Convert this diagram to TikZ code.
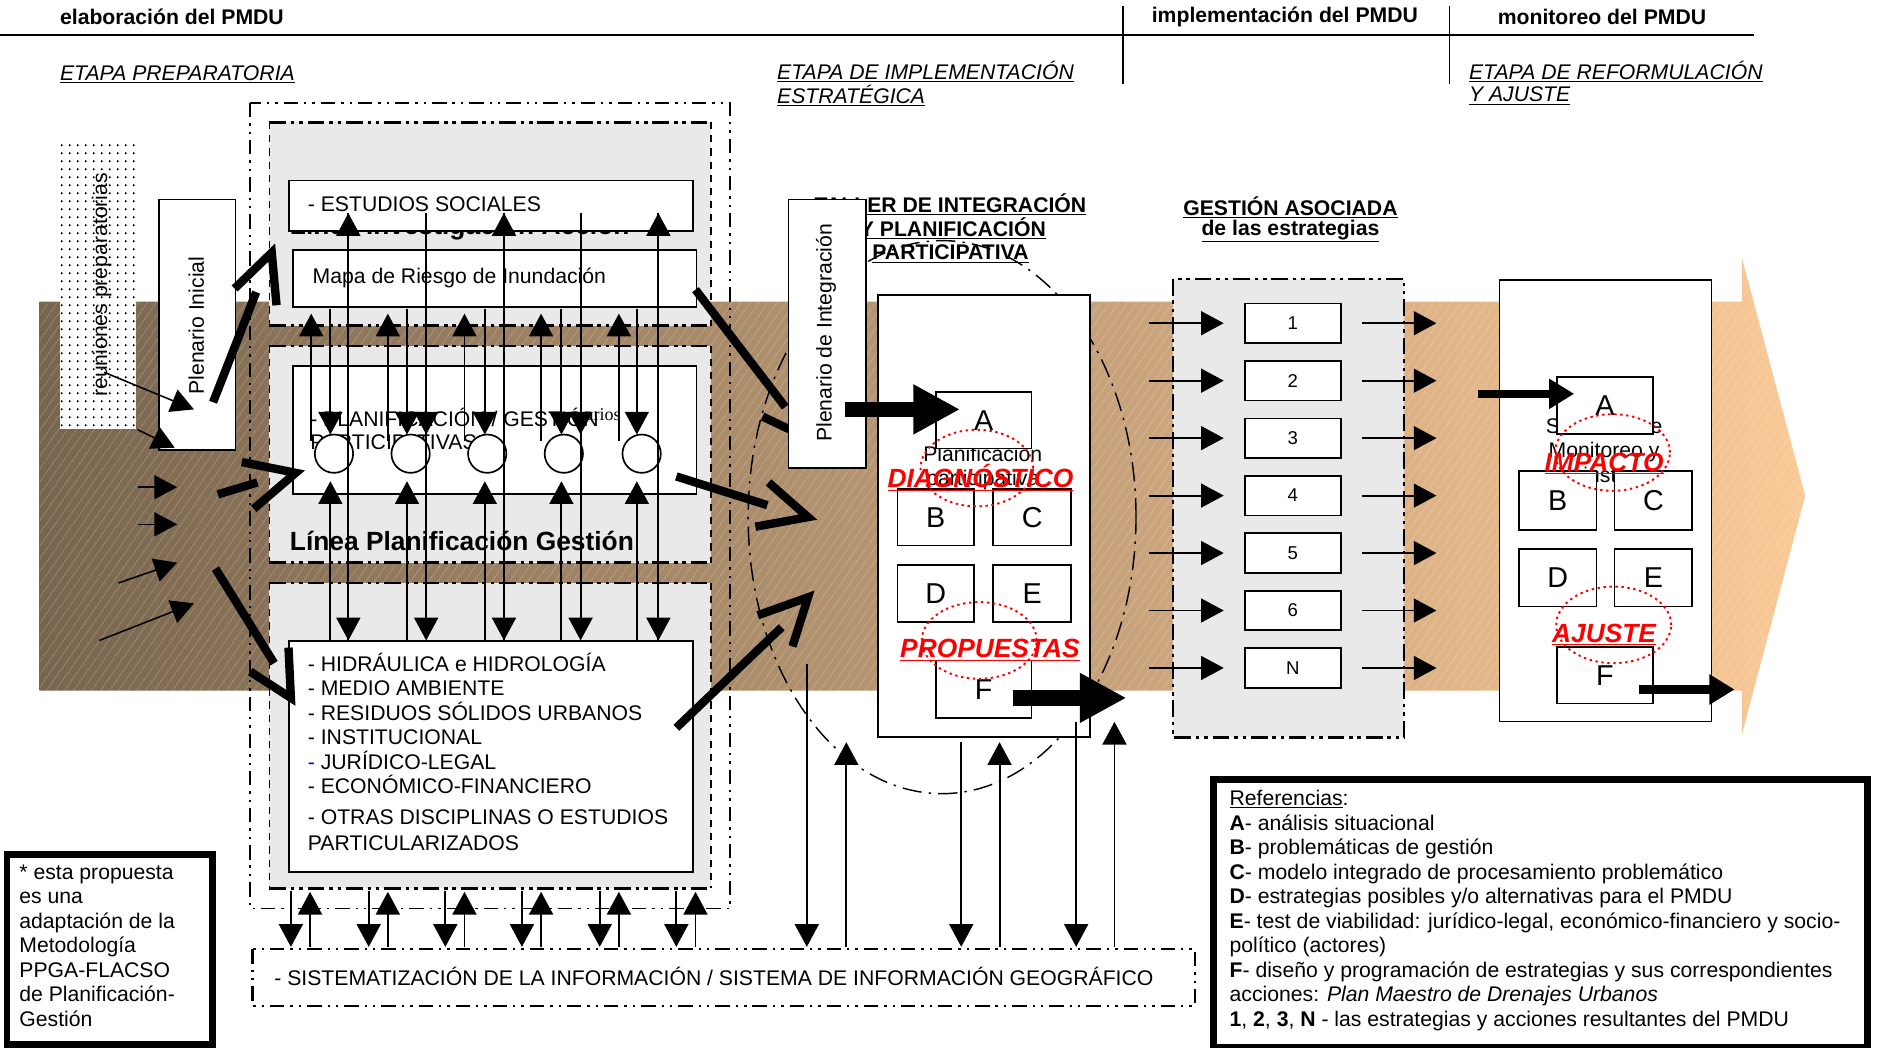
\documentclass[tikz,border=0pt]{standalone}
\usepackage{fontspec}
\setmainfont{Liberation Sans}
\newfontfamily\serifsmall{Liberation Serif}
\usetikzlibrary{arrows.meta,patterns.meta}
\definecolor{bandL}{RGB}{120,101,78}
\definecolor{bandR}{RGB}{250,201,150}
\definecolor{panel}{RGB}{233,233,233}
\tikzset{
  txt/.style={inner sep=0pt},
  hdr/.style={txt,font=\bfseries},
  stage/.style={txt,font=\itshape,anchor=west},
  rbox/.style={draw,line width=1.4pt,fill=white,inner sep=0pt,anchor=north west},
  thinarr/.style={line width=1.6pt,-{Triangle[length=19pt,width=20pt]}},
  fat/.style={line width=7pt,line join=miter,miter limit=10},
  bigarr/.style={line width=13pt,-{Triangle[length=39pt,width=39pt]}},
  medarr/.style={line width=7pt,-{Triangle[length=21pt,width=24pt]}},
  secbord/.style={line width=2.4pt,dash pattern=on 14pt off 4pt on 3pt off 4pt on 3pt off 4pt},
  secside/.style={line width=1.2pt,dash pattern=on 6pt off 5pt},
  outerdd/.style={line width=1.5pt,dash pattern=on 12pt off 5pt on 2pt off 5pt on 2pt off 5pt},
  redring/.style={draw=red,line width=1.6pt,dash pattern=on 2pt off 3pt},
  redtxt/.style={txt,text=red,font=\fontsize{22}{24}\selectfont\bfseries\itshape},
  letter/.style={font=\fontsize{24}{26}\selectfont},
  numtxt/.style={font=\fontsize{15.5}{18}\selectfont},
  boldbig/.style={txt,font=\fontsize{22}{24}\selectfont\bfseries},
}
\begin{document}
\fontsize{17.7}{20.5}\selectfont
\begin{tikzpicture}[x=1pt,y=-1pt]
\useasboundingbox (0,0) rectangle (1568,875);

% ---------- band ----------
\shade[left color=bandL,right color=bandR] (33,252) -- (1455,252) -- (1455,215) -- (1508,414) -- (1455,614) -- (1455,577) -- (33,577) -- cycle;
\fill[pattern={Lines[angle=55,distance=6.5pt,line width=0.6pt]},pattern color=white,fill opacity=0.3] (33,252) -- (1455,252) -- (1455,215) -- (1508,414) -- (1455,614) -- (1455,577) -- (33,577) -- cycle;

% ---------- header ----------
\node[hdr,anchor=west] (h1) at (50,14) {elaboración del PMDU};
\node[hdr,anchor=west] (h2) at (962,14) {implementación del PMDU};
\node[hdr,anchor=west] (h3) at (1251,14) {monitoreo del PMDU};
\coordinate (hl0) at (0,29); \coordinate (hl1) at (1465,29);
\draw[line width=1.5pt] (hl0) -- (hl1);
\coordinate (v1a) at (938,5); \coordinate (v1b) at (938,70);
\coordinate (v2a) at (1211,5); \coordinate (v2b) at (1211,70);
\draw[line width=1.2pt] (v1a) -- (v1b);
\draw[line width=1.2pt] (v2a) -- (v2b);
\node[stage] (e1) at (50,62) {\underline{ETAPA PREPARATORIA}};
\node[stage] (e2a) at (649,60) {\underline{ETAPA DE IMPLEMENTACIÓN}};
\node[stage] (e2b) at (649,80) {\underline{ESTRATÉGICA}};
\node[stage] (e3a) at (1227,60) {\underline{ETAPA DE REFORMULACIÓN}};
\node[stage] (e3b) at (1227,80) {\underline{Y AJUSTE}};

% ---------- reuniones ----------
\node[fill=white,minimum width=63pt,minimum height=240pt,inner sep=0pt,anchor=north west] (reun) at (50,118) {};
\fill[pattern={Dots[distance=6.5pt,radius=0.95pt]},pattern color=black] (reun.north west) rectangle (reun.south east);
\node[txt,rotate=90] (reuntxt) at (85,238) {reuniones preparatorias};

% ---------- central ellipse ----------
\draw[line width=1.2pt,dash pattern=on 16pt off 6pt on 2pt off 6pt] (787,432) ellipse [x radius=162pt,y radius=231pt];

% ---------- outer box and sections ----------
\draw[outerdd] (209,86) rectangle (610,759);
\fill[panel] (225,102) rectangle (594,272);
\fill[panel] (225,289) rectangle (594,470);
\fill[panel] (225,487) rectangle (594,742);
\foreach \t/\bo in {102/272,289/470,487/742}{
  \draw[secbord] (225,\t) -- (594,\t);
  \draw[secbord] (225,\bo) -- (594,\bo);
  \draw[secside] (225,\t) -- (225,\bo);
  \draw[secside] (594,\t) -- (594,\bo);
}
\node[boldbig,anchor=base west] (linv) at (242,196) {Línea Investigación Acción};
\node[rbox,minimum width=337pt,minimum height=42pt] (estudios) at (241,150) {};
\node[txt,anchor=west] (estt) at (257,171) {- ESTUDIOS SOCIALES};
\node[rbox,minimum width=337pt,minimum height=48pt] (mapa) at (244,208) {};
\node[txt,anchor=west] (mapat) at (261,232) {Mapa de Riesgo de Inundación};
\node[rbox,minimum width=337pt,minimum height=107pt] (plan) at (244,305) {};
\node[txt,anchor=west] (plant1) at (259,349) {- PLANIFICACIÓN / GESTIÓN};
\node[txt,anchor=west] (plant2) at (259,369) {PARTICIPATIVAS};
\node[txt,anchor=west,font=\serifsmall\fontsize{15}{17}\selectfont] (plant3) at (489,346) {arios};
\node[boldbig,anchor=west] (lplan) at (242,452) {Línea Planificación Gestión};
\node[rbox,minimum width=337pt,minimum height=193pt] (lista) at (241,535) {};
\node[txt,anchor=north west,align=left] (listt1) at (257,545) {- HIDRÁULICA e HIDROLOGÍA\\- MEDIO AMBIENTE\\- RESIDUOS SÓLIDOS URBANOS\\- INSTITUCIONAL\\{\color{blue}-} JURÍDICO-LEGAL\\- ECONÓMICO-FINANCIERO};
\node[txt,anchor=north west,align=left,font=\fontsize{17.7}{22}\selectfont] (listt2) at (257,676) {- OTRAS DISCIPLINAS O ESTUDIOS\\PARTICULARIZADOS};

% circles
\foreach \cx [count=\i] in {279,343,407,471,536}{
  \node[circle,draw,fill=white,line width=1.4pt,minimum size=32pt,inner sep=0pt] (circ\i) at (\cx,379) {};
}

% vertical arrows grid
\foreach \a/\b/\c/\g in {260/276/291/0,324/340/356/1,388/405/421/2,452/469/485/3,517/532/550/4}{
  \draw[thinarr] (\a,368) -- (\a,262);
  \draw[thinarr] (\b,258) -- (\b,363);
  \draw[thinarr] (\b,535) -- (\b,402);
  \draw[thinarr] (\c,178) -- (\c,535);
}
\foreach \c in {291,421,550}{ \draw[thinarr] (\c,535) -- (\c,178); }
\foreach \c in {356,485}{ \draw[thinarr] (\c,178) -- (\c,363); }

% small arrows below sections
\foreach \d in {243,308,372,436,501,565}{
  \draw[thinarr] (\d,744) -- (\d,791);
  \draw[thinarr] (\d+16,791) -- (\d+16,745);
}

% ---------- Plenario inicial ----------
\node[rbox,minimum width=64pt,minimum height=209pt] (pini) at (132,166) {};
\node[txt,rotate=90] (pinit) at (164,272) {Plenario Inicial};
\coordinate (r1a) at (87,311); \coordinate (r1b) at (162,342);
\coordinate (r2a) at (115,359); \coordinate (r2b) at (146,374);
\draw[thinarr,line width=1.3pt] (r1a) -- (r1b);
\draw[thinarr,line width=1.3pt] (r2a) -- (r2b);
\coordinate (l1a) at (115,407); \coordinate (l1b) at (148,407);
\coordinate (l2a) at (115,438); \coordinate (l2b) at (148,438);
\coordinate (l3a) at (99,487); \coordinate (l3b) at (148,470);
\coordinate (l4a) at (83,535); \coordinate (l4b) at (162,504);
\draw[thinarr,line width=1.3pt] (l1a) -- (l1b);
\draw[thinarr,line width=1.3pt] (l2a) -- (l2b);
\draw[thinarr,line width=1.3pt] (l3a) -- (l3b);
\draw[thinarr,line width=1.3pt] (l4a) -- (l4b);

% ---------- fat chevron arrows ----------
\draw[fat] (178,336) -- (214,244); \draw[fat] (196,241) -- (227,211) -- (231,255);
\draw[fat] (182,413) -- (215,403); \draw[fat] (202,386) -- (247,395) -- (212,425);
\draw[fat] (180,475) -- (229,554); \draw[fat] (209,561) -- (243,583) -- (241,541);
\draw[fat] (581,242) -- (656,340); \draw[fat] (663,323) -- (675,366) -- (637,348);
\draw[fat] (565,398) -- (641,422); \draw[fat] (642,403) -- (675,432) -- (631,440);
\draw[fat] (565,608) -- (653,524); \draw[fat] (633,514) -- (675,499) -- (662,540);

% ---------- taller ----------
\node[hdr] (t1) at (794,171) {\underline{TALLER DE INTEGRACIÓN}};
\node[hdr] (t2) at (796,191) {\underline{Y PLANIFICACIÓN}};
\node[hdr] (t3) at (794,212) {\underline{PARTICIPATIVA}};
\node[rbox,minimum width=65pt,minimum height=224pt] (pint) at (658,166) {};
\node[txt,rotate=90] (pintt) at (690,278) {Plenario de Integración};

\node[rbox,minimum width=177pt,minimum height=369pt] (cbox) at (733,246) {};
\node[txt,align=center] (ctext) at (821,391) {Planificación\\participativa};
\node[rbox,letter,minimum width=80pt,minimum height=47pt] (cA) at (781,327) {A};
\node[rbox,letter,minimum width=64pt,minimum height=47pt] (cB) at (749,408) {B};
\node[rbox,letter,minimum width=65pt,minimum height=47pt] (cC) at (829,408) {C};
\node[rbox,letter,minimum width=64pt,minimum height=48pt] (cD) at (749,471) {D};
\node[rbox,letter,minimum width=65pt,minimum height=48pt] (cE) at (829,471) {E};
\node[rbox,letter,minimum width=80pt,minimum height=48pt] (cF) at (781,551) {F};
\draw[redring] (816,391) ellipse [x radius=47pt,y radius=32pt];
\draw[redring] (818,535) ellipse [x radius=48pt,y radius=32pt];
\node[redtxt] (diag) at (819,399) {\underline{DIAGNÓSTICO}};
\node[redtxt] (prop) at (827,543) {\underline{PROPUESTAS}};
\coordinate (ba1) at (706,342); \coordinate (ba2) at (802,342);
\draw[bigarr] (ba1) -- (ba2);
\coordinate (bf1) at (846,583); \coordinate (bf2) at (941,583);
\draw[bigarr] (bf1) -- (bf2);

% thin arrows below central box
\draw[thinarr] (674,555) -- (674,791);
\draw[thinarr] (707,791) -- (707,620);
\draw[thinarr] (803,620) -- (803,791);
\draw[thinarr] (835,791) -- (835,620);
\draw[thinarr] (899,603) -- (899,791);
\draw[thinarr] (931,791) -- (931,603);

% ---------- gestion asociada ----------
\node[hdr] (ga1) at (1078,173) {\underline{GESTIÓN ASOCIADA}};
\node[hdr] (ga2) at (1078,193) {\underline{de las estrategias}};
\fill[panel] (980,233) rectangle (1173,616);
\draw[secbord,line width=2pt] (980,233) rectangle (1173,616);
\foreach \lab [count=\i] in {1,2,3,4,5,6,N}{
  \pgfmathsetmacro{\yy}{270+48*(\i-1)}
  \node[rbox,anchor=center,numtxt,minimum width=80pt,minimum height=33pt] (g\i) at (1080,\yy) {\lab};
  \draw[thinarr] (960,\yy) -- ([xshift=-17pt]g\i.west);
  \draw[thinarr] ([xshift=17pt]g\i.east) -- (1200,\yy);
}

% ---------- monitoreo ----------
\node[rbox,minimum width=177pt,minimum height=369pt] (mbox) at (1252,233) {};
\node[txt,align=center] (mtext) at (1340,378) {Sistemas de\\Monitoreo y\\Ajustes};
\node[rbox,letter,minimum width=80pt,minimum height=48pt] (mA) at (1300,314) {A};
\node[rbox,letter,minimum width=65pt,minimum height=49pt] (mB) at (1268,393) {B};
\node[rbox,letter,minimum width=65pt,minimum height=49pt] (mC) at (1348,393) {C};
\node[rbox,letter,minimum width=65pt,minimum height=48pt] (mD) at (1268,458) {D};
\node[rbox,letter,minimum width=65pt,minimum height=48pt] (mE) at (1348,458) {E};
\node[rbox,letter,minimum width=80pt,minimum height=47pt] (mF) at (1300,540) {F};
\draw[redring] (1347,378) ellipse [x radius=48pt,y radius=32pt];
\draw[redring] (1348,522) ellipse [x radius=48pt,y radius=32pt];
\node[redtxt] (imp) at (1340,387) {\underline{IMPACTO}};
\node[redtxt] (aju) at (1340,530) {\underline{AJUSTE}};
\coordinate (ma1) at (1235,329); \coordinate (ma2) at (1315,329);
\draw[medarr] (ma1) -- (ma2);
\coordinate (mf1) at (1369,576); \coordinate (mf2) at (1449,576);
\draw[medarr] (mf1) -- (mf2);

% ---------- SIG ----------
\node[minimum width=787pt,minimum height=47pt,inner sep=0pt,anchor=north west] (sig) at (211,793) {};
\draw[outerdd,line width=2pt] (sig.north west) rectangle (sig.south east);
\node[txt,anchor=west] (sigt) at (229,816) {- SISTEMATIZACIÓN DE LA INFORMACIÓN / SISTEMA DE INFORMACIÓN GEOGRÁFICO};

% ---------- note ----------
\node[draw,line width=5.5pt,fill=white,minimum width=172pt,minimum height=159pt,inner sep=0pt,anchor=north west] (note) at (3,711) {};
\node[txt,anchor=north west,align=left] (notet) at (16,722) {* esta propuesta\\es una\\adaptación de la\\Metodología\\PPGA-FLACSO\\de Planificación-\\Gestión};

% ---------- legend ----------
\node[draw,line width=6pt,fill=white,minimum width=546pt,minimum height=224pt,inner sep=0pt,anchor=north west] (legend) at (1011,648) {};
\node[txt,anchor=north west,align=left] (legt) at (1027,660) {\underline{Referencias}:\\
\textbf{A}- análisis situacional\\
\textbf{B}- problemáticas de gestión\\
\textbf{C}- modelo integrado de procesamiento problemático\\
\textbf{D}- estrategias posibles y/o alternativas para el PMDU\\
\textbf{E}- test de viabilidad: jurídico-legal, económico-financiero y socio-\\
político (actores)\\
\textbf{F}- diseño y programación de estrategias y sus correspondientes\\
acciones: \textit{Plan Maestro de Drenajes Urbanos}\\
\textbf{1}, \textbf{2}, \textbf{3}, \textbf{N} - las estrategias y acciones resultantes del PMDU};
\end{tikzpicture}
\end{document}
